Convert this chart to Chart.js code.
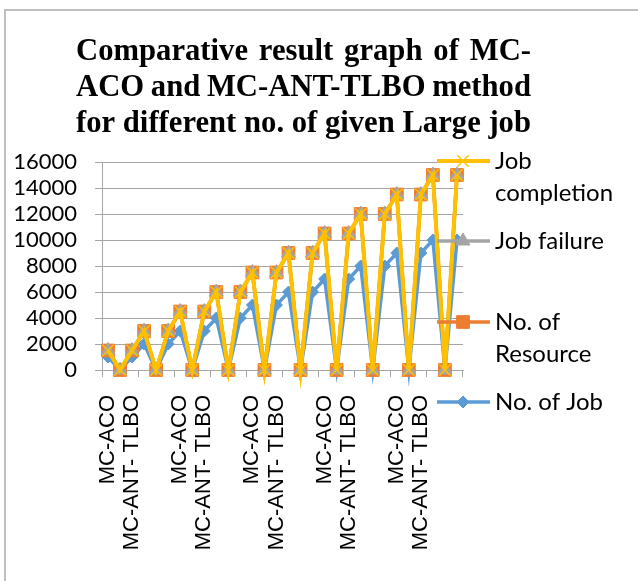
<!DOCTYPE html>
<html>
<head>
<meta charset="utf-8">
<script src="https://cdn.jsdelivr.net/npm/chart.js@4/dist/chart.umd.min.js"></script>
<style>
  html, body { margin: 0; padding: 0; background: #fff; }
  #wrap { position: relative; width: 638px; height: 581px; }
</style>
</head>
<body>
<div id="wrap"><canvas id="chart" width="638" height="581"></canvas></div>
<script>
// categories (blank rows sit between the two methods of each group)
const categories = [
  'MC-ACO', '', 'MC-ANT- TLBO', 'MC-ACO', '', 'MC-ANT- TLBO',
  'MC-ACO', '', 'MC-ANT- TLBO', 'MC-ACO', '', 'MC-ANT- TLBO',
  'MC-ACO', '', 'MC-ANT- TLBO', 'MC-ACO', '', 'MC-ANT- TLBO',
  'MC-ACO', '', 'MC-ANT- TLBO', 'MC-ACO', '', 'MC-ANT- TLBO',
  'MC-ACO', '', 'MC-ANT- TLBO', 'MC-ACO', '', 'MC-ANT- TLBO'
];

const noOfJob = [1000, 0, 1000, 2000, 0, 2000, 3000, 0, 3000, 4000, 0, 4000, 5000, 0, 5000,
  6000, 0, 6000, 7000, 0, 7000, 8000, 0, 8000, 9000, 0, 9000, 10000, 0, 10000];
const noOfResource = [1500, 0, 1500, 3000, 0, 3000, 4500, 0, 4500, 6000, 0, 6000, 7500, 0, 7500,
  9000, 0, 9000, 10500, 0, 10500, 12000, 0, 12000, 13500, 0, 13500, 15000, 0, 15000];
const jobFailure = [1500, 0, 1500, 3000, 0, 3000, 4500, 0, 4500, 6000, 0, 6000, 7500, 0, 7500,
  9000, 0, 9000, 10500, 0, 10500, 12000, 0, 12000, 13500, 0, 13500, 15000, 0, 15000];
const jobCompletion = [1500, 0, 1500, 3000, 0, 3000, 4500, 0, 4500, 6000, 0, 6000, 7500, 0, 7500,
  9000, 0, 9000, 10500, 0, 10500, 12000, 0, 12000, 13500, 0, 13500, 15000, 0, 15000];

const titleLines = ['Comparative result graph of MC-', 'ACO and MC-ANT-TLBO method', 'for different no. of given Large job'];

const yMin = 0, yMax = 16000, yStep = 2000;

// legend: label lines and y position of the sample line
const legendItems = [
  { lines: ['Job', 'completion'], y: 161 },
  { lines: ['Job failure'], y: 241 },
  { lines: ['No. of', 'Resource'], y: 322 },
  { lines: ['No. of Job'], y: 402 }
];

const gridGray = '#a6a6a6';

// title drawn justified, like the word box it came from
const titlePlugin = {
  id: 'justTitle',
  afterDraw(chart) {
    const ctx = chart.ctx;
    ctx.save();
    ctx.fillStyle = '#000';
    ctx.font = 'bold 31px "Liberation Serif"';
    ctx.textBaseline = 'alphabetic';
    const left = 76, width = 455;
    const sx = width / ctx.measureText(titleLines[2]).width;
    const baselines = [60, 96, 132];
    titleLines.forEach((line, i) => {
      const words = line.split(' ');
      const ww = words.map(w => ctx.measureText(w).width * sx);
      const sum = ww.reduce((a, b) => a + b, 0);
      const gap = (width - sum) / (words.length - 1);
      let x = left;
      words.forEach((w, j) => {
        ctx.save();
        ctx.translate(x, baselines[i]);
        ctx.scale(sx, 1);
        ctx.fillText(w, 0, 0);
        ctx.restore();
        x += ww[j] + gap;
      });
    });
    // outer frame
    ctx.strokeStyle = '#bfbfbf';
    ctx.lineWidth = 2;
    ctx.beginPath();
    ctx.moveTo(5, 600);
    ctx.lineTo(5, 10);
    ctx.lineTo(700, 10);
    ctx.stroke();
    ctx.restore();
  }
};

const legendPlugin = {
  id: 'sideLegend',
  afterDraw(chart) {
    const ctx = chart.ctx;
    ctx.save();
    legendItems.forEach((item, i) => {
      const ds = chart.data.datasets[i];
      ctx.strokeStyle = ds.borderColor;
      ctx.lineWidth = ds.borderWidth;
      ctx.beginPath();
      ctx.moveTo(437, item.y);
      ctx.lineTo(490, item.y);
      ctx.stroke();
      ctx.fillStyle = ds.pointBackgroundColor;
      ctx.strokeStyle = ds.pointBorderColor;
      ctx.lineWidth = ds.pointBorderWidth;
      Chart.helpers.drawPoint(ctx, { pointStyle: ds.pointStyle, radius: ds.pointRadius, borderWidth: ds.pointBorderWidth, rotation: 0 }, 463, item.y);
      ctx.fillStyle = '#000';
      ctx.font = '24px Lato';
      ctx.textBaseline = 'middle';
      item.lines.forEach((t, k) => ctx.fillText(t, 495, item.y + k * 32));
    });
    ctx.restore();
  }
};

new Chart(document.getElementById('chart'), {
  type: 'line',
  data: {
    labels: categories,
    datasets: [
      {
        label: 'Job completion', data: jobCompletion,
        borderColor: '#ffc000', borderWidth: 4,
        pointStyle: 'crossRot', pointRadius: 8, pointBorderWidth: 1.5,
        pointBackgroundColor: '#ffc000', pointBorderColor: '#ffc000',
        tension: 0, clip: false
      },
      {
        label: 'Job failure', data: jobFailure,
        borderColor: '#a5a5a5', borderWidth: 3.5,
        pointStyle: 'triangle', pointRadius: 8, pointBorderWidth: 1,
        pointBackgroundColor: '#a5a5a5', pointBorderColor: '#a5a5a5',
        tension: 0, clip: false
      },
      {
        label: 'No. of Resource', data: noOfResource,
        borderColor: '#ed7d31', borderWidth: 3.5,
        pointStyle: 'rect', pointRadius: 9, pointBorderWidth: 1,
        pointBackgroundColor: '#ed7d31', pointBorderColor: '#ed7d31',
        tension: 0, clip: false
      },
      {
        label: 'No. of Job', data: noOfJob,
        borderColor: '#5b9bd5', borderWidth: 3.5,
        pointStyle: 'rectRot', pointRadius: 6, pointBorderWidth: 1,
        pointBackgroundColor: '#5b9bd5', pointBorderColor: '#5b9bd5',
        tension: 0, clip: false
      }
    ]
  },
  options: {
    responsive: false,
    animation: false,
    events: [],
    layout: { padding: { left: 0, top: 162, right: 175, bottom: 0 } },
    plugins: { legend: { display: false }, title: { display: false }, tooltip: { enabled: false } },
    scales: {
      x: {
        offset: true,
        afterFit(scale) { scale.height = 581 - 370; },
        grid: {
          offset: true, drawOnChartArea: false, tickLength: 7, lineWidth: 1,
          color: c => (c.index % 3 === 2 ? 'rgba(0,0,0,0)' : gridGray)
        },
        border: { color: gridGray },
        ticks: {
          autoSkip: false, maxRotation: 90, minRotation: 90, padding: 18,
          color: '#000', font: { family: 'Liberation Sans', size: 22 },
          callback(v, i) { return i % 2 === 0 ? categories[i] : ''; }
        }
      },
      y: {
        min: yMin, max: yMax,
        afterFit(scale) { scale.width = 102; },
        grid: { color: gridGray, tickLength: 7, lineWidth: 1 },
        border: { color: gridGray },
        ticks: {
          stepSize: yStep, autoSkip: false, padding: 18, color: '#000',
          font: { family: 'Lato', size: 22 },
          callback(v) { return String(v); }
        }
      }
    }
  },
  plugins: [titlePlugin, legendPlugin]
});
</script>
</body>
</html>
